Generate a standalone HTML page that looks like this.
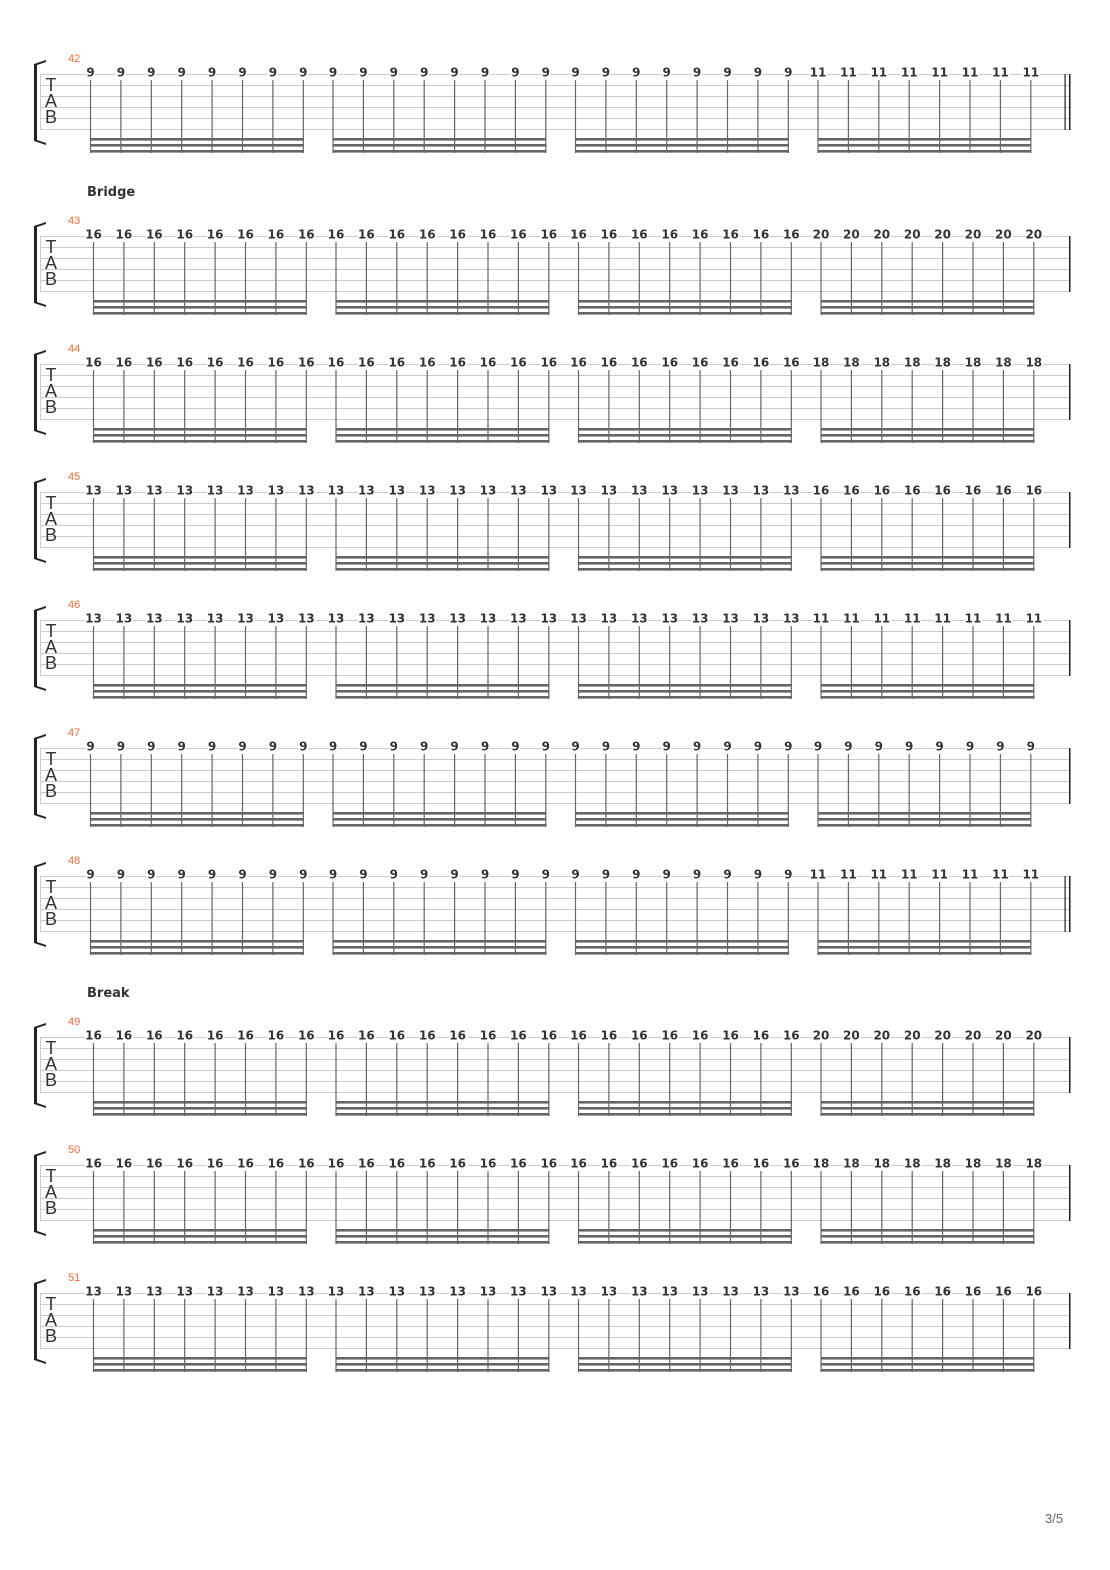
<!DOCTYPE html>
<html><head><meta charset="utf-8"><style>
html,body{margin:0;padding:0;background:#fff}
svg{display:block}
.n{font:bold 12px "DejaVu Sans","Liberation Sans",sans-serif;fill:#333;text-anchor:middle;dominant-baseline:central;paint-order:stroke;stroke:#fff;stroke-width:3px}
.n text{transform:translateY(-1.5px)}
.m{font:11px "Liberation Sans",sans-serif;fill:#f06a3a}
.tab{font:18px "Liberation Sans",sans-serif;fill:#333;text-anchor:middle}
.s{font:bold 13px "DejaVu Sans","Liberation Sans",sans-serif;fill:#333}
</style></head><body>
<svg width="1110" height="1570" viewBox="0 0 1110 1570" xmlns="http://www.w3.org/2000/svg">
<defs>
<g id="staff">
<g stroke="#ccc" stroke-width="1"><line x1="40" y1="0.5" x2="1070" y2="0.5"/><line x1="40" y1="11.5" x2="1070" y2="11.5"/><line x1="40" y1="22.5" x2="1070" y2="22.5"/><line x1="40" y1="33.5" x2="1070" y2="33.5"/><line x1="40" y1="44.5" x2="1070" y2="44.5"/><line x1="40" y1="55.5" x2="1070" y2="55.5"/><line x1="40.5" y1="0" x2="40.5" y2="56"/></g>
<path d="M34,-10 L46,-14 L46,-12 L37,-9 L37,66 L46,69 L46,71 L34,67 Z" fill="#222"/>
<text class="tab" x="51" y="17">T</text><text class="tab" x="51" y="33">A</text><text class="tab" x="51" y="49">B</text>
</g>
<g id="notes" fill="#666">
<g stroke="#666" stroke-width="1.2">
<line x1="90.5" y1="6" x2="90.5" y2="79"/><line x1="120.9" y1="6" x2="120.9" y2="79"/><line x1="151.3" y1="6" x2="151.3" y2="79"/><line x1="181.7" y1="6" x2="181.7" y2="79"/><line x1="212.1" y1="6" x2="212.1" y2="79"/><line x1="242.5" y1="6" x2="242.5" y2="79"/><line x1="272.9" y1="6" x2="272.9" y2="79"/><line x1="303.3" y1="6" x2="303.3" y2="79"/>
<line x1="333" y1="6" x2="333" y2="79"/><line x1="363.4" y1="6" x2="363.4" y2="79"/><line x1="393.8" y1="6" x2="393.8" y2="79"/><line x1="424.2" y1="6" x2="424.2" y2="79"/><line x1="454.6" y1="6" x2="454.6" y2="79"/><line x1="485" y1="6" x2="485" y2="79"/><line x1="515.4" y1="6" x2="515.4" y2="79"/><line x1="545.8" y1="6" x2="545.8" y2="79"/>
<line x1="575.5" y1="6" x2="575.5" y2="79"/><line x1="605.9" y1="6" x2="605.9" y2="79"/><line x1="636.3" y1="6" x2="636.3" y2="79"/><line x1="666.7" y1="6" x2="666.7" y2="79"/><line x1="697.1" y1="6" x2="697.1" y2="79"/><line x1="727.5" y1="6" x2="727.5" y2="79"/><line x1="757.9" y1="6" x2="757.9" y2="79"/><line x1="788.3" y1="6" x2="788.3" y2="79"/>
<line x1="818" y1="6" x2="818" y2="79"/><line x1="848.4" y1="6" x2="848.4" y2="79"/><line x1="878.8" y1="6" x2="878.8" y2="79"/><line x1="909.2" y1="6" x2="909.2" y2="79"/><line x1="939.6" y1="6" x2="939.6" y2="79"/><line x1="970" y1="6" x2="970" y2="79"/><line x1="1000.4" y1="6" x2="1000.4" y2="79"/><line x1="1030.8" y1="6" x2="1030.8" y2="79"/>
</g>
<rect x="90" y="64" width="214" height="2.6"/><rect x="90" y="70" width="214" height="2.6"/><rect x="90" y="76" width="214" height="2.6"/>
<rect x="332.5" y="64" width="214" height="2.6"/><rect x="332.5" y="70" width="214" height="2.6"/><rect x="332.5" y="76" width="214" height="2.6"/>
<rect x="575" y="64" width="214" height="2.6"/><rect x="575" y="70" width="214" height="2.6"/><rect x="575" y="76" width="214" height="2.6"/>
<rect x="817.5" y="64" width="214" height="2.6"/><rect x="817.5" y="70" width="214" height="2.6"/><rect x="817.5" y="76" width="214" height="2.6"/>
</g>
</defs>

<!-- 42 -->
<g transform="translate(0,74)"><use href="#staff"/><use href="#notes"/>
<rect x="1064.5" y="0" width="1.2" height="56" fill="#222"/><rect x="1069" y="0" width="1.5" height="56" fill="#222"/>
<text class="m" x="68" y="-12">42</text>
<g class="n"><text x="90.5" y="0">9</text><text x="120.9" y="0">9</text><text x="151.3" y="0">9</text><text x="181.7" y="0">9</text><text x="212.1" y="0">9</text><text x="242.5" y="0">9</text><text x="272.9" y="0">9</text><text x="303.3" y="0">9</text><text x="333" y="0">9</text><text x="363.4" y="0">9</text><text x="393.8" y="0">9</text><text x="424.2" y="0">9</text><text x="454.6" y="0">9</text><text x="485" y="0">9</text><text x="515.4" y="0">9</text><text x="545.8" y="0">9</text><text x="575.5" y="0">9</text><text x="605.9" y="0">9</text><text x="636.3" y="0">9</text><text x="666.7" y="0">9</text><text x="697.1" y="0">9</text><text x="727.5" y="0">9</text><text x="757.9" y="0">9</text><text x="788.3" y="0">9</text><text x="818" y="0">11</text><text x="848.4" y="0">11</text><text x="878.8" y="0">11</text><text x="909.2" y="0">11</text><text x="939.6" y="0">11</text><text x="970" y="0">11</text><text x="1000.4" y="0">11</text><text x="1030.8" y="0">11</text></g>
</g>

<text class="s" x="87" y="196">Bridge</text>

<!-- 43 -->
<g transform="translate(0,236)"><use href="#staff"/><g transform="translate(3,0)"><use href="#notes"/></g>
<rect x="1069" y="0" width="1.5" height="56" fill="#222"/>
<text class="m" x="68" y="-12">43</text>
<g class="n" transform="translate(3,0)"><text x="90.5" y="0">16</text><text x="120.9" y="0">16</text><text x="151.3" y="0">16</text><text x="181.7" y="0">16</text><text x="212.1" y="0">16</text><text x="242.5" y="0">16</text><text x="272.9" y="0">16</text><text x="303.3" y="0">16</text><text x="333" y="0">16</text><text x="363.4" y="0">16</text><text x="393.8" y="0">16</text><text x="424.2" y="0">16</text><text x="454.6" y="0">16</text><text x="485" y="0">16</text><text x="515.4" y="0">16</text><text x="545.8" y="0">16</text><text x="575.5" y="0">16</text><text x="605.9" y="0">16</text><text x="636.3" y="0">16</text><text x="666.7" y="0">16</text><text x="697.1" y="0">16</text><text x="727.5" y="0">16</text><text x="757.9" y="0">16</text><text x="788.3" y="0">16</text><text x="818" y="0">20</text><text x="848.4" y="0">20</text><text x="878.8" y="0">20</text><text x="909.2" y="0">20</text><text x="939.6" y="0">20</text><text x="970" y="0">20</text><text x="1000.4" y="0">20</text><text x="1030.8" y="0">20</text></g>
</g>

<!-- 44 -->
<g transform="translate(0,364)"><use href="#staff"/><g transform="translate(3,0)"><use href="#notes"/></g>
<rect x="1069" y="0" width="1.5" height="56" fill="#222"/>
<text class="m" x="68" y="-12">44</text>
<g class="n" transform="translate(3,0)"><text x="90.5" y="0">16</text><text x="120.9" y="0">16</text><text x="151.3" y="0">16</text><text x="181.7" y="0">16</text><text x="212.1" y="0">16</text><text x="242.5" y="0">16</text><text x="272.9" y="0">16</text><text x="303.3" y="0">16</text><text x="333" y="0">16</text><text x="363.4" y="0">16</text><text x="393.8" y="0">16</text><text x="424.2" y="0">16</text><text x="454.6" y="0">16</text><text x="485" y="0">16</text><text x="515.4" y="0">16</text><text x="545.8" y="0">16</text><text x="575.5" y="0">16</text><text x="605.9" y="0">16</text><text x="636.3" y="0">16</text><text x="666.7" y="0">16</text><text x="697.1" y="0">16</text><text x="727.5" y="0">16</text><text x="757.9" y="0">16</text><text x="788.3" y="0">16</text><text x="818" y="0">18</text><text x="848.4" y="0">18</text><text x="878.8" y="0">18</text><text x="909.2" y="0">18</text><text x="939.6" y="0">18</text><text x="970" y="0">18</text><text x="1000.4" y="0">18</text><text x="1030.8" y="0">18</text></g>
</g>

<!-- 45 -->
<g transform="translate(0,492)"><use href="#staff"/><g transform="translate(3,0)"><use href="#notes"/></g>
<rect x="1069" y="0" width="1.5" height="56" fill="#222"/>
<text class="m" x="68" y="-12">45</text>
<g class="n" transform="translate(3,0)"><text x="90.5" y="0">13</text><text x="120.9" y="0">13</text><text x="151.3" y="0">13</text><text x="181.7" y="0">13</text><text x="212.1" y="0">13</text><text x="242.5" y="0">13</text><text x="272.9" y="0">13</text><text x="303.3" y="0">13</text><text x="333" y="0">13</text><text x="363.4" y="0">13</text><text x="393.8" y="0">13</text><text x="424.2" y="0">13</text><text x="454.6" y="0">13</text><text x="485" y="0">13</text><text x="515.4" y="0">13</text><text x="545.8" y="0">13</text><text x="575.5" y="0">13</text><text x="605.9" y="0">13</text><text x="636.3" y="0">13</text><text x="666.7" y="0">13</text><text x="697.1" y="0">13</text><text x="727.5" y="0">13</text><text x="757.9" y="0">13</text><text x="788.3" y="0">13</text><text x="818" y="0">16</text><text x="848.4" y="0">16</text><text x="878.8" y="0">16</text><text x="909.2" y="0">16</text><text x="939.6" y="0">16</text><text x="970" y="0">16</text><text x="1000.4" y="0">16</text><text x="1030.8" y="0">16</text></g>
</g>

<!-- 46 -->
<g transform="translate(0,620)"><use href="#staff"/><g transform="translate(3,0)"><use href="#notes"/></g>
<rect x="1069" y="0" width="1.5" height="56" fill="#222"/>
<text class="m" x="68" y="-12">46</text>
<g class="n" transform="translate(3,0)"><text x="90.5" y="0">13</text><text x="120.9" y="0">13</text><text x="151.3" y="0">13</text><text x="181.7" y="0">13</text><text x="212.1" y="0">13</text><text x="242.5" y="0">13</text><text x="272.9" y="0">13</text><text x="303.3" y="0">13</text><text x="333" y="0">13</text><text x="363.4" y="0">13</text><text x="393.8" y="0">13</text><text x="424.2" y="0">13</text><text x="454.6" y="0">13</text><text x="485" y="0">13</text><text x="515.4" y="0">13</text><text x="545.8" y="0">13</text><text x="575.5" y="0">13</text><text x="605.9" y="0">13</text><text x="636.3" y="0">13</text><text x="666.7" y="0">13</text><text x="697.1" y="0">13</text><text x="727.5" y="0">13</text><text x="757.9" y="0">13</text><text x="788.3" y="0">13</text><text x="818" y="0">11</text><text x="848.4" y="0">11</text><text x="878.8" y="0">11</text><text x="909.2" y="0">11</text><text x="939.6" y="0">11</text><text x="970" y="0">11</text><text x="1000.4" y="0">11</text><text x="1030.8" y="0">11</text></g>
</g>

<!-- 47 -->
<g transform="translate(0,748)"><use href="#staff"/><use href="#notes"/>
<rect x="1069" y="0" width="1.5" height="56" fill="#222"/>
<text class="m" x="68" y="-12">47</text>
<g class="n"><text x="90.5" y="0">9</text><text x="120.9" y="0">9</text><text x="151.3" y="0">9</text><text x="181.7" y="0">9</text><text x="212.1" y="0">9</text><text x="242.5" y="0">9</text><text x="272.9" y="0">9</text><text x="303.3" y="0">9</text><text x="333" y="0">9</text><text x="363.4" y="0">9</text><text x="393.8" y="0">9</text><text x="424.2" y="0">9</text><text x="454.6" y="0">9</text><text x="485" y="0">9</text><text x="515.4" y="0">9</text><text x="545.8" y="0">9</text><text x="575.5" y="0">9</text><text x="605.9" y="0">9</text><text x="636.3" y="0">9</text><text x="666.7" y="0">9</text><text x="697.1" y="0">9</text><text x="727.5" y="0">9</text><text x="757.9" y="0">9</text><text x="788.3" y="0">9</text><text x="818" y="0">9</text><text x="848.4" y="0">9</text><text x="878.8" y="0">9</text><text x="909.2" y="0">9</text><text x="939.6" y="0">9</text><text x="970" y="0">9</text><text x="1000.4" y="0">9</text><text x="1030.8" y="0">9</text></g>
</g>

<!-- 48 -->
<g transform="translate(0,876)"><use href="#staff"/><use href="#notes"/>
<rect x="1064.5" y="0" width="1.2" height="56" fill="#222"/><rect x="1069" y="0" width="1.5" height="56" fill="#222"/>
<text class="m" x="68" y="-12">48</text>
<g class="n"><text x="90.5" y="0">9</text><text x="120.9" y="0">9</text><text x="151.3" y="0">9</text><text x="181.7" y="0">9</text><text x="212.1" y="0">9</text><text x="242.5" y="0">9</text><text x="272.9" y="0">9</text><text x="303.3" y="0">9</text><text x="333" y="0">9</text><text x="363.4" y="0">9</text><text x="393.8" y="0">9</text><text x="424.2" y="0">9</text><text x="454.6" y="0">9</text><text x="485" y="0">9</text><text x="515.4" y="0">9</text><text x="545.8" y="0">9</text><text x="575.5" y="0">9</text><text x="605.9" y="0">9</text><text x="636.3" y="0">9</text><text x="666.7" y="0">9</text><text x="697.1" y="0">9</text><text x="727.5" y="0">9</text><text x="757.9" y="0">9</text><text x="788.3" y="0">9</text><text x="818" y="0">11</text><text x="848.4" y="0">11</text><text x="878.8" y="0">11</text><text x="909.2" y="0">11</text><text x="939.6" y="0">11</text><text x="970" y="0">11</text><text x="1000.4" y="0">11</text><text x="1030.8" y="0">11</text></g>
</g>

<text class="s" x="87" y="997">Break</text>

<!-- 49 -->
<g transform="translate(0,1037)"><use href="#staff"/><g transform="translate(3,0)"><use href="#notes"/></g>
<rect x="1069" y="0" width="1.5" height="56" fill="#222"/>
<text class="m" x="68" y="-12">49</text>
<g class="n" transform="translate(3,0)"><text x="90.5" y="0">16</text><text x="120.9" y="0">16</text><text x="151.3" y="0">16</text><text x="181.7" y="0">16</text><text x="212.1" y="0">16</text><text x="242.5" y="0">16</text><text x="272.9" y="0">16</text><text x="303.3" y="0">16</text><text x="333" y="0">16</text><text x="363.4" y="0">16</text><text x="393.8" y="0">16</text><text x="424.2" y="0">16</text><text x="454.6" y="0">16</text><text x="485" y="0">16</text><text x="515.4" y="0">16</text><text x="545.8" y="0">16</text><text x="575.5" y="0">16</text><text x="605.9" y="0">16</text><text x="636.3" y="0">16</text><text x="666.7" y="0">16</text><text x="697.1" y="0">16</text><text x="727.5" y="0">16</text><text x="757.9" y="0">16</text><text x="788.3" y="0">16</text><text x="818" y="0">20</text><text x="848.4" y="0">20</text><text x="878.8" y="0">20</text><text x="909.2" y="0">20</text><text x="939.6" y="0">20</text><text x="970" y="0">20</text><text x="1000.4" y="0">20</text><text x="1030.8" y="0">20</text></g>
</g>

<!-- 50 -->
<g transform="translate(0,1165)"><use href="#staff"/><g transform="translate(3,0)"><use href="#notes"/></g>
<rect x="1069" y="0" width="1.5" height="56" fill="#222"/>
<text class="m" x="68" y="-12">50</text>
<g class="n" transform="translate(3,0)"><text x="90.5" y="0">16</text><text x="120.9" y="0">16</text><text x="151.3" y="0">16</text><text x="181.7" y="0">16</text><text x="212.1" y="0">16</text><text x="242.5" y="0">16</text><text x="272.9" y="0">16</text><text x="303.3" y="0">16</text><text x="333" y="0">16</text><text x="363.4" y="0">16</text><text x="393.8" y="0">16</text><text x="424.2" y="0">16</text><text x="454.6" y="0">16</text><text x="485" y="0">16</text><text x="515.4" y="0">16</text><text x="545.8" y="0">16</text><text x="575.5" y="0">16</text><text x="605.9" y="0">16</text><text x="636.3" y="0">16</text><text x="666.7" y="0">16</text><text x="697.1" y="0">16</text><text x="727.5" y="0">16</text><text x="757.9" y="0">16</text><text x="788.3" y="0">16</text><text x="818" y="0">18</text><text x="848.4" y="0">18</text><text x="878.8" y="0">18</text><text x="909.2" y="0">18</text><text x="939.6" y="0">18</text><text x="970" y="0">18</text><text x="1000.4" y="0">18</text><text x="1030.8" y="0">18</text></g>
</g>

<!-- 51 -->
<g transform="translate(0,1293)"><use href="#staff"/><g transform="translate(3,0)"><use href="#notes"/></g>
<rect x="1069" y="0" width="1.5" height="56" fill="#222"/>
<text class="m" x="68" y="-12">51</text>
<g class="n" transform="translate(3,0)"><text x="90.5" y="0">13</text><text x="120.9" y="0">13</text><text x="151.3" y="0">13</text><text x="181.7" y="0">13</text><text x="212.1" y="0">13</text><text x="242.5" y="0">13</text><text x="272.9" y="0">13</text><text x="303.3" y="0">13</text><text x="333" y="0">13</text><text x="363.4" y="0">13</text><text x="393.8" y="0">13</text><text x="424.2" y="0">13</text><text x="454.6" y="0">13</text><text x="485" y="0">13</text><text x="515.4" y="0">13</text><text x="545.8" y="0">13</text><text x="575.5" y="0">13</text><text x="605.9" y="0">13</text><text x="636.3" y="0">13</text><text x="666.7" y="0">13</text><text x="697.1" y="0">13</text><text x="727.5" y="0">13</text><text x="757.9" y="0">13</text><text x="788.3" y="0">13</text><text x="818" y="0">16</text><text x="848.4" y="0">16</text><text x="878.8" y="0">16</text><text x="909.2" y="0">16</text><text x="939.6" y="0">16</text><text x="970" y="0">16</text><text x="1000.4" y="0">16</text><text x="1030.8" y="0">16</text></g>
</g>

<text x="1045" y="1523" style="font:13px 'Liberation Sans',sans-serif;fill:#666">3/5</text>
</svg>
</body></html>
